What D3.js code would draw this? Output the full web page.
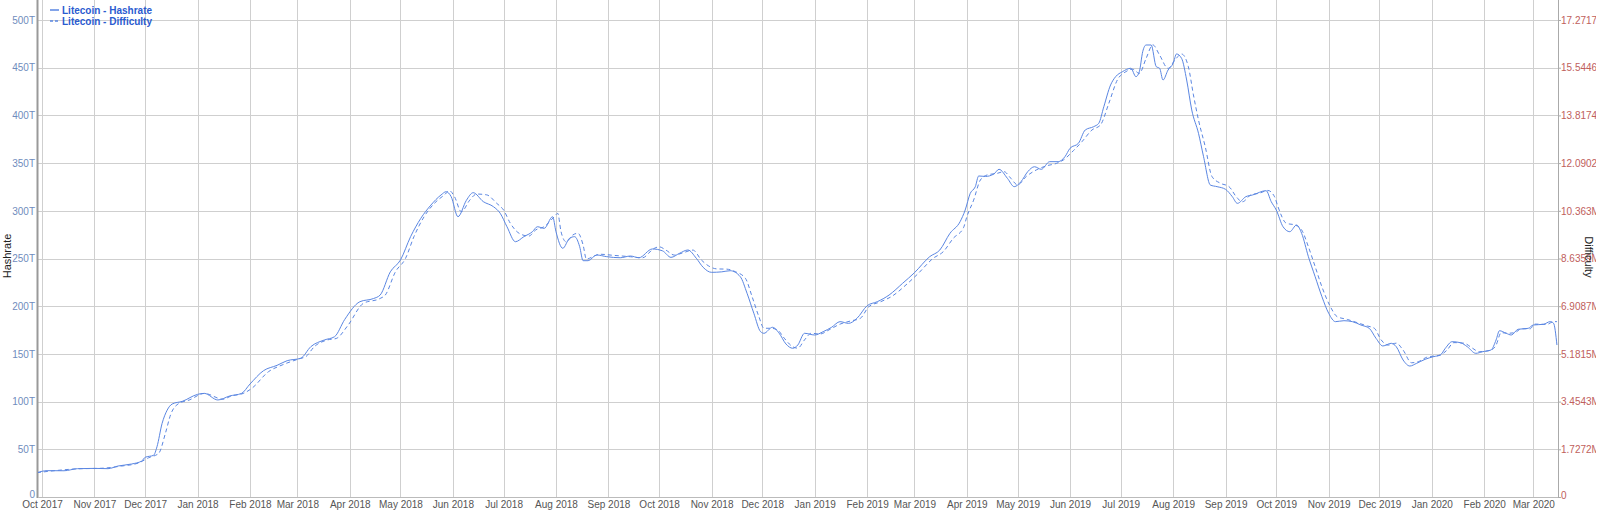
<!DOCTYPE html>
<html>
<head>
<meta charset="utf-8">
<script src="https://cdn.jsdelivr.net/npm/d3@7"></script>
<style>
  html, body { margin: 0; padding: 0; background: #fff; }
  svg { display: block; font-family: "Liberation Sans", Arial, sans-serif; }
</style>
</head>
<body>
<div id="chart"></div>
<script>
// Litecoin hashrate, in T
const hashrate = [
  ["2017-09-28", 25.5], ["2017-10-04", 27.6], ["2017-10-14", 27.5], ["2017-10-22", 29.7],
  ["2017-11-01", 30], ["2017-11-09", 29.7], ["2017-11-15", 32.5], ["2017-11-23", 34.6], ["2017-11-29", 37.7],
  ["2017-12-01", 41.6], ["2017-12-06", 43.7], ["2017-12-08", 52.7], ["2017-12-11", 77], ["2017-12-14", 91],
  ["2017-12-17", 97.5], ["2017-12-23", 100.3],
  ["2018-01-01", 107.6], ["2018-01-05", 108.6], ["2018-01-13", 101.7], ["2018-01-20", 105.9], ["2018-01-27", 108.6],
  ["2018-02-01", 118.4], ["2018-02-09", 132.4], ["2018-02-17", 138], ["2018-02-23", 142.9],
  ["2018-03-03", 145.4], ["2018-03-09", 157.6], ["2018-03-17", 164.6], ["2018-03-23", 168], ["2018-03-29", 186],
  ["2018-04-07", 204.7], ["2018-04-15", 208], ["2018-04-19", 211.7], ["2018-04-25", 236],
  ["2018-05-01", 248.4], ["2018-05-07", 272.9], ["2018-05-13", 292], ["2018-05-19", 306], ["2018-05-25", 316.6],
  ["2018-05-28", 320], ["2018-05-31", 314.8],
  ["2018-06-04", 293.8], ["2018-06-09", 311], ["2018-06-13", 319], ["2018-06-19", 309.6], ["2018-06-25", 304.3],
  ["2018-06-29", 297.4],
  ["2018-07-03", 283.3], ["2018-07-08", 267.6], ["2018-07-13", 272.9], ["2018-07-18", 278], ["2018-07-21", 283.3],
  ["2018-07-25", 281.6], ["2018-07-30", 293.8],
  ["2018-08-01", 278], ["2018-08-05", 260.7], ["2018-08-09", 271.2], ["2018-08-12", 272.9], ["2018-08-15", 262.4],
  ["2018-08-17", 247.7], ["2018-08-20", 247.7], ["2018-08-25", 253.7], ["2018-08-31", 251.9],
  ["2018-09-08", 250.8], ["2018-09-14", 252.6], ["2018-09-19", 250.8], ["2018-09-27", 260],
  ["2018-10-03", 258], ["2018-10-08", 251.2], ["2018-10-13", 255.4], ["2018-10-18", 258.9], ["2018-10-23", 250.2],
  ["2018-10-27", 240.8],
  ["2018-11-01", 235.5], ["2018-11-07", 236], ["2018-11-12", 237.2], ["2018-11-18", 230.9], ["2018-11-22", 213.5],
  ["2018-11-26", 192.6], ["2018-11-30", 173.3],
  ["2018-12-02", 171.6], ["2018-12-07", 177.9], ["2018-12-11", 171.6], ["2018-12-15", 160.4], ["2018-12-19", 155.9],
  ["2018-12-22", 159.3], ["2018-12-26", 171.6],
  ["2019-01-01", 169.8], ["2019-01-06", 173.3], ["2019-01-11", 177.9], ["2019-01-16", 183.8], ["2019-01-21", 182],
  ["2019-01-26", 187.3],
  ["2019-02-01", 200.5], ["2019-02-07", 204.7], ["2019-02-14", 211.7], ["2019-02-22", 224],
  ["2019-03-01", 235.1], ["2019-03-10", 251.9], ["2019-03-16", 258.9], ["2019-03-22", 276.4], ["2019-03-28", 288.6],
  ["2019-03-31", 300.8],
  ["2019-04-03", 318.3], ["2019-04-06", 325.3], ["2019-04-08", 336.5], ["2019-04-12", 336], ["2019-04-17", 338.6],
  ["2019-04-20", 343.5], ["2019-04-25", 334], ["2019-04-29", 325.3],
  ["2019-05-03", 330.5], ["2019-05-07", 341], ["2019-05-11", 346.2], ["2019-05-15", 343.5], ["2019-05-20", 351.5],
  ["2019-05-25", 351.5], ["2019-05-29", 356.7],
  ["2019-06-01", 365.5], ["2019-06-06", 370.8], ["2019-06-10", 384.7], ["2019-06-15", 388.2], ["2019-06-18", 391.7],
  ["2019-06-21", 409.1], ["2019-06-25", 431.9], ["2019-06-28", 440.6],
  ["2019-07-02", 445.8], ["2019-07-07", 449.4], ["2019-07-10", 440.6], ["2019-07-12", 445.8], ["2019-07-14", 466.8],
  ["2019-07-16", 473.8], ["2019-07-19", 473.8], ["2019-07-22", 451.1], ["2019-07-24", 449.4], ["2019-07-26", 437.1],
  ["2019-07-29", 447.6],
  ["2019-08-01", 454.6], ["2019-08-03", 464.4], ["2019-08-06", 459.8], ["2019-08-09", 437.1], ["2019-08-12", 405.7],
  ["2019-08-16", 381.2], ["2019-08-19", 356.7], ["2019-08-23", 327], ["2019-08-27", 325.3],
  ["2019-09-01", 322.5], ["2019-09-05", 314.8], ["2019-09-08", 307.8], ["2019-09-13", 314.8], ["2019-09-17", 316.6],
  ["2019-09-25", 321.1], ["2019-09-28", 309.6],
  ["2019-10-01", 300.8], ["2019-10-05", 283.3], ["2019-10-09", 278.1], ["2019-10-13", 285.1], ["2019-10-16", 276.4],
  ["2019-10-20", 251.9], ["2019-10-24", 230.9], ["2019-10-28", 210],
  ["2019-11-01", 192.6], ["2019-11-05", 183.8], ["2019-11-10", 184.8], ["2019-11-15", 183.8], ["2019-11-20", 180.3],
  ["2019-11-25", 176.8], ["2019-11-29", 166.3],
  ["2019-12-03", 158.3], ["2019-12-08", 161.1], ["2019-12-11", 157.5], ["2019-12-15", 143.6], ["2019-12-19", 137.3],
  ["2019-12-23", 140.1], ["2019-12-28", 144.3],
  ["2020-01-02", 147.1], ["2020-01-06", 148.8], ["2020-01-09", 155.9], ["2020-01-13", 162.8], ["2020-01-18", 161.7],
  ["2020-01-22", 157.5], ["2020-01-27", 150.6], ["2020-01-31", 152.3],
  ["2020-02-05", 154.1], ["2020-02-08", 164.6], ["2020-02-10", 174.3], ["2020-02-14", 171.6], ["2020-02-17", 169.8],
  ["2020-02-21", 175.8], ["2020-02-27", 176.8],
  ["2020-03-01", 180.3], ["2020-03-07", 181], ["2020-03-11", 183.8], ["2020-03-13", 182.1], ["2020-03-15", 159.3]
];

// Litecoin difficulty, in M
const difficulty = [
  ["2017-09-28", 0.88], ["2017-10-08", 0.95], ["2017-10-22", 1.02], ["2017-11-05", 1.04], ["2017-11-17", 1.12],
  ["2017-11-27", 1.23], ["2017-12-03", 1.42], ["2017-12-09", 1.58], ["2017-12-13", 2.31], ["2017-12-16", 2.97],
  ["2017-12-21", 3.39], ["2017-12-27", 3.51],
  ["2018-01-05", 3.75], ["2018-01-16", 3.54], ["2018-01-21", 3.66], ["2018-01-28", 3.75],
  ["2018-02-02", 3.93], ["2018-02-12", 4.54], ["2018-02-20", 4.78],
  ["2018-03-03", 5.02], ["2018-03-06", 5.08], ["2018-03-11", 5.44], ["2018-03-19", 5.69], ["2018-03-24", 5.74],
  ["2018-03-31", 6.22],
  ["2018-04-09", 7.01], ["2018-04-19", 7.19], ["2018-04-22", 7.31], ["2018-04-28", 8.15],
  ["2018-05-04", 8.64], ["2018-05-09", 9.43], ["2018-05-15", 10.15], ["2018-05-21", 10.63], ["2018-05-27", 10.94],
  ["2018-05-30", 11.09],
  ["2018-06-02", 10.87], ["2018-06-06", 10.33], ["2018-06-11", 10.75], ["2018-06-15", 10.97], ["2018-06-21", 10.94],
  ["2018-06-27", 10.63],
  ["2018-07-01", 10.39], ["2018-07-05", 9.91], ["2018-07-11", 9.52], ["2018-07-16", 9.45], ["2018-07-20", 9.67],
  ["2018-07-25", 9.79], ["2018-07-31", 10.15],
  ["2018-08-02", 10.27], ["2018-08-04", 9.6], ["2018-08-07", 9.24], ["2018-08-11", 9.49], ["2018-08-14", 9.55],
  ["2018-08-17", 9.13], ["2018-08-19", 8.61], ["2018-08-22", 8.68], ["2018-08-27", 8.79],
  ["2018-09-04", 8.75], ["2018-09-14", 8.7], ["2018-09-21", 8.66], ["2018-09-28", 9.0],
  ["2018-10-01", 9.06], ["2018-10-05", 8.94], ["2018-10-10", 8.76], ["2018-10-15", 8.84], ["2018-10-21", 8.94],
  ["2018-10-26", 8.58], ["2018-10-31", 8.34],
  ["2018-11-04", 8.26], ["2018-11-10", 8.25], ["2018-11-15", 8.16], ["2018-11-21", 7.92], ["2018-11-25", 7.25],
  ["2018-11-29", 6.53],
  ["2018-12-02", 6.11], ["2018-12-06", 6.11], ["2018-12-10", 6.05], ["2018-12-14", 5.75], ["2018-12-19", 5.44],
  ["2018-12-22", 5.39], ["2018-12-26", 5.69], ["2018-12-30", 5.93],
  ["2019-01-04", 5.9], ["2019-01-10", 6.07], ["2019-01-16", 6.26], ["2019-01-22", 6.37], ["2019-01-28", 6.47],
  ["2019-02-02", 6.89], ["2019-02-09", 7.07], ["2019-02-16", 7.28], ["2019-02-24", 7.68],
  ["2019-03-03", 8.08], ["2019-03-12", 8.64], ["2019-03-18", 8.88], ["2019-03-24", 9.37], ["2019-03-30", 9.75],
  ["2019-04-01", 10.15], ["2019-04-05", 10.75], ["2019-04-09", 11.48], ["2019-04-13", 11.66], ["2019-04-19", 11.72],
  ["2019-04-23", 11.78], ["2019-04-27", 11.54],
  ["2019-05-01", 11.3], ["2019-05-06", 11.6], ["2019-05-12", 11.84], ["2019-05-18", 11.99], ["2019-05-24", 12.08],
  ["2019-05-28", 12.2],
  ["2019-06-03", 12.54], ["2019-06-08", 12.86], ["2019-06-14", 13.29], ["2019-06-19", 13.47], ["2019-06-24", 14.26],
  ["2019-06-29", 15.1],
  ["2019-07-04", 15.4], ["2019-07-08", 15.49], ["2019-07-12", 15.34], ["2019-07-16", 15.88], ["2019-07-20", 16.37],
  ["2019-07-24", 16.0], ["2019-07-29", 15.52],
  ["2019-08-02", 15.82], ["2019-08-06", 16.04], ["2019-08-10", 15.58], ["2019-08-13", 14.56], ["2019-08-16", 13.65],
  ["2019-08-20", 12.68], ["2019-08-24", 11.6], ["2019-08-29", 11.36],
  ["2019-09-03", 11.24], ["2019-09-08", 10.82], ["2019-09-11", 10.69], ["2019-09-16", 10.94], ["2019-09-21", 11.0],
  ["2019-09-26", 11.1], ["2019-09-30", 10.87],
  ["2019-10-02", 10.51], ["2019-10-07", 9.91], ["2019-10-12", 9.85], ["2019-10-16", 9.67], ["2019-10-20", 9.06],
  ["2019-10-24", 8.34], ["2019-10-28", 7.61],
  ["2019-11-02", 6.89], ["2019-11-06", 6.53], ["2019-11-12", 6.43], ["2019-11-18", 6.31], ["2019-11-24", 6.19],
  ["2019-11-28", 6.11],
  ["2019-12-02", 5.69], ["2019-12-06", 5.5], ["2019-12-11", 5.57], ["2019-12-15", 5.32], ["2019-12-20", 4.86],
  ["2019-12-24", 4.9], ["2019-12-29", 5.06],
  ["2020-01-06", 5.14], ["2020-01-10", 5.32], ["2020-01-14", 5.59], ["2020-01-20", 5.57], ["2020-01-25", 5.39],
  ["2020-01-29", 5.26],
  ["2020-02-05", 5.32], ["2020-02-08", 5.5], ["2020-02-11", 5.95], ["2020-02-15", 5.93], ["2020-02-19", 5.95],
  ["2020-02-23", 6.09], ["2020-02-28", 6.09],
  ["2020-03-02", 6.26], ["2020-03-09", 6.25], ["2020-03-13", 6.35], ["2020-03-15", 6.35]
];

const leftTicks = [0, 50, 100, 150, 200, 250, 300, 350, 400, 450, 500];
const rightTickLabels = ["0", "1.7272M", "3.4543M", "5.1815M", "6.9087M", "8.6359M",
  "10.363M", "12.0902M", "13.8174M", "15.5446M", "17.2717M"];
const rightMax = 17.2717;
const legendLabels = ["Litecoin - Hashrate", "Litecoin - Difficulty"];

const width = 1600, height = 511;
const plot = {left: 38, right: 1558, top: 20, bottom: 497};
const lineColor = "#5a86e2";

const parseDate = d3.utcParse("%Y-%m-%d");

const x = d3.scaleUtc()
  .domain([Date.UTC(2017, 8, 28, 15), Date.UTC(2020, 2, 15, 15)])
  .range([plot.left, plot.right]);
const yLeft = d3.scaleLinear().domain([0, 500]).range([plot.bottom, plot.top]);
const yRight = d3.scaleLinear().domain([0, rightMax]).range([plot.bottom, plot.top]);

const svg = d3.select("#chart")
  .append("svg")
  .attr("width", width)
  .attr("height", height);

const defs = svg.append("defs");
defs.append("clipPath").attr("id", "plotClip")
  .append("rect")
  .attr("x", plot.left).attr("y", 0)
  .attr("width", plot.right - plot.left).attr("height", plot.bottom);
defs.append("clipPath").attr("id", "rightClip")
  .append("rect")
  .attr("x", plot.right).attr("y", 0)
  .attr("width", 1596 - plot.right).attr("height", height);

// grid
const monthTicks = x.ticks(d3.utcMonth.every(1));
svg.append("g")
  .attr("class", "vgrid")
  .selectAll("line")
  .data(monthTicks)
  .join("line")
  .attr("x1", d => Math.round(x(d)) + 0.5)
  .attr("x2", d => Math.round(x(d)) + 0.5)
  .attr("y1", 0)
  .attr("y2", plot.bottom)
  .attr("stroke", "#cfcfcf");

svg.append("g")
  .attr("class", "hgrid")
  .selectAll("line")
  .data(leftTicks.slice(1))
  .join("line")
  .attr("x1", plot.left)
  .attr("x2", plot.right)
  .attr("y1", d => Math.round(yLeft(d)) + 0.5)
  .attr("y2", d => Math.round(yLeft(d)) + 0.5)
  .attr("stroke", "#cfcfcf");

// axes
let xAxis = svg.append("g")
  .attr("transform", `translate(0,${plot.bottom})`)
  .call(d3.axisBottom(x)
    .tickValues(monthTicks)
    .tickFormat(d3.utcFormat("%b %Y"))
    .tickSize(0)
    .tickPadding(4));
xAxis.select(".domain").remove();
xAxis.selectAll("text")
  .attr("fill", "#555")
  .style("font-size", "10px")
  .style("font-family", "Liberation Sans, Arial, sans-serif");

let leftAxis = svg.append("g")
  .attr("transform", `translate(${plot.left},0)`)
  .call(d3.axisLeft(yLeft)
    .tickValues(leftTicks)
    .tickFormat(d => d === 0 ? "0" : d + "T")
    .tickSize(0)
    .tickPadding(3));
leftAxis.select(".domain").remove();
leftAxis.selectAll("text")
  .attr("fill", "#6f8cbd")
  .attr("dy", d => d === 0 ? "0.05em" : "0.32em")
  .style("font-size", "10px")
  .style("font-family", "Liberation Sans, Arial, sans-serif");

let rightWrap = svg.append("g").attr("clip-path", "url(#rightClip)");
let rightAxis = rightWrap.append("g")
  .attr("transform", `translate(${plot.right},0)`)
  .call(d3.axisRight(yRight)
    .tickValues(d3.range(rightTickLabels.length).map(i => i * rightMax / (rightTickLabels.length - 1)))
    .tickFormat((d, i) => rightTickLabels[i])
    .tickSize(3)
    .tickPadding(0));
rightAxis.select(".domain").remove();
rightAxis.selectAll("line").attr("stroke", "#aaa");
rightAxis.selectAll("text")
  .attr("fill", "#c0605c")
  .attr("dy", (d, i) => i === 0 ? "0.1em" : "0.32em")
  .style("font-size", "10px")
  .style("font-family", "Liberation Sans, Arial, sans-serif");

// frame lines
svg.append("line")
  .attr("x1", plot.left - 0.5).attr("x2", plot.left - 0.5)
  .attr("y1", 0).attr("y2", plot.bottom + 1)
  .attr("stroke", "#999").attr("stroke-width", 2);
svg.append("line")
  .attr("x1", plot.right + 0.5).attr("x2", plot.right + 0.5)
  .attr("y1", 0).attr("y2", plot.bottom + 1)
  .attr("stroke", "#aaa");
svg.append("line")
  .attr("x1", plot.left).attr("x2", plot.right)
  .attr("y1", plot.bottom + 0.5).attr("y2", plot.bottom + 0.5)
  .attr("stroke", "#bbb");

// axis titles
svg.append("text")
  .text("Hashrate")
  .attr("transform", `translate(7,256) rotate(-90)`)
  .attr("text-anchor", "middle")
  .attr("dominant-baseline", "central")
  .attr("fill", "#222")
  .style("font-size", "11px");
svg.append("text")
  .text("Difficulty")
  .attr("transform", `translate(1589,257) rotate(90)`)
  .attr("text-anchor", "middle")
  .attr("dominant-baseline", "central")
  .attr("fill", "#222")
  .style("font-size", "11px");

// series
const hashLine = d3.line()
  .x(d => x(parseDate(d[0])))
  .y(d => yLeft(d[1]))
  .curve(d3.curveMonotoneX);
const diffLine = d3.line()
  .x(d => x(parseDate(d[0])))
  .y(d => yRight(d[1]))
  .curve(d3.curveMonotoneX);

const series = svg.append("g").attr("clip-path", "url(#plotClip)");
series.append("path")
  .datum(hashrate)
  .attr("d", hashLine)
  .attr("fill", "none")
  .attr("stroke", lineColor)
  .attr("stroke-width", 1);
series.append("path")
  .datum(difficulty)
  .attr("d", diffLine)
  .attr("fill", "none")
  .attr("stroke", lineColor)
  .attr("stroke-width", 1)
  .attr("stroke-dasharray", "4,3");

// legend
const legend = svg.append("g").attr("class", "legend");
legendLabels.forEach((label, i) => {
  let yy = 10 + i * 11;
  legend.append("line")
    .attr("x1", 50).attr("x2", 59)
    .attr("y1", yy).attr("y2", yy)
    .attr("stroke", lineColor)
    .attr("stroke-width", 1.5)
    .attr("stroke-dasharray", i === 1 ? "3,2" : null);
  legend.append("text")
    .text(label)
    .attr("x", 62)
    .attr("y", yy)
    .attr("dominant-baseline", "central")
    .attr("fill", "#2a5bd0")
    .style("font-size", "10px")
    .style("font-weight", "bold");
});
</script>
</body>
</html>
